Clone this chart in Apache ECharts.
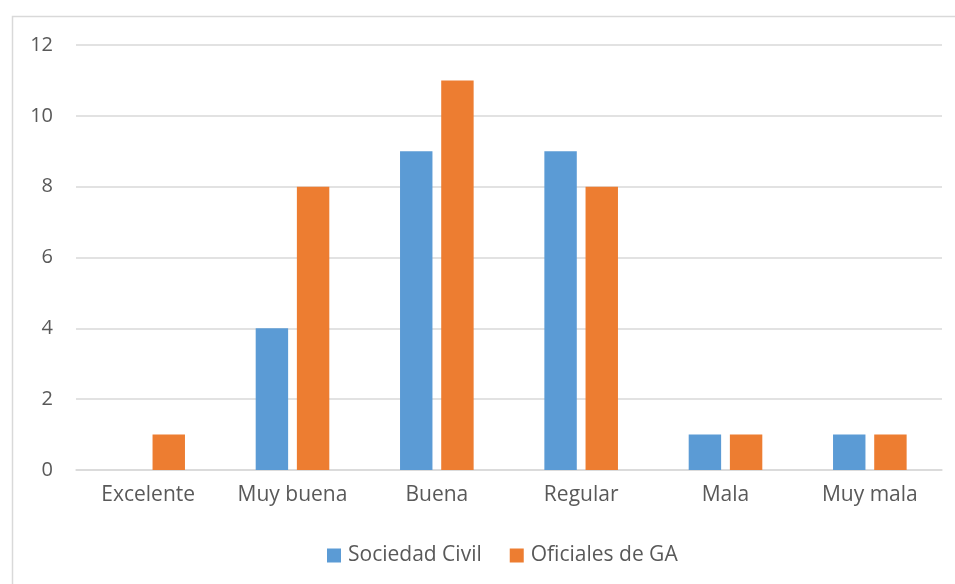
<!DOCTYPE html>
<html>
<head>
<meta charset="utf-8">
<script src="https://cdn.jsdelivr.net/npm/echarts@6/dist/echarts.min.js"></script>
<style>
  html, body { margin: 0; padding: 0; background: #fff; }
  #chart { width: 955px; height: 584px; }
</style>
</head>
<body>
<div id="chart"></div>
<script>
// Ratings by group
const categories = ['Excelente', 'Muy buena', 'Buena', 'Regular', 'Mala', 'Muy mala'];
const sociedadCivil = [0, 4, 9, 9, 1, 1];
const oficialesGA = [1, 8, 11, 8, 1, 1];
const seriesNames = ['Sociedad Civil', 'Oficiales de GA'];

const FONT = '"Open Sans", "Liberation Sans", sans-serif';
const TEXT = '#595959';
const GRID = '#d9d9d9';

const chart = echarts.init(document.getElementById('chart'));
chart.setOption({
  animation: false,
  textStyle: { fontFamily: FONT },
  graphic: [{
    type: 'rect',
    shape: { x: 12.5, y: 16.5, width: 1000, height: 700 },
    style: { fill: 'none', stroke: GRID, lineWidth: 1.5 },
    silent: true
  }],
  grid: { left: 76, right: 13, top: 45, bottom: 114 },
  legend: {
    bottom: 13,
    left: 322,
    itemWidth: 14,
    itemHeight: 14,
    itemGap: 28,
    icon: 'rect',
    textStyle: { color: TEXT, fontSize: 21, fontFamily: FONT, padding: [0, 0, 0, 2] },
    data: seriesNames
  },
  xAxis: {
    type: 'category',
    data: categories,
    axisLine: { lineStyle: { color: GRID, width: 1.5 } },
    axisTick: { show: false },
    axisLabel: { color: TEXT, fontSize: 21, margin: 15, fontFamily: FONT }
  },
  yAxis: {
    type: 'value',
    min: 0,
    max: 12,
    interval: 2,
    axisLine: { show: false },
    axisTick: { show: false },
    axisLabel: { color: TEXT, fontSize: 20, margin: 23, fontFamily: FONT },
    splitLine: { lineStyle: { color: GRID, width: 1.5 } }
  },
  series: [
    {
      name: seriesNames[0],
      type: 'bar',
      data: sociedadCivil,
      itemStyle: { color: '#5b9bd5' },
      barGap: '27%',
      barCategoryGap: '49%'
    },
    {
      name: seriesNames[1],
      type: 'bar',
      data: oficialesGA,
      itemStyle: { color: '#ed7d31' },
      barGap: '27%',
      barCategoryGap: '49%'
    }
  ]
});
</script>
</body>
</html>
